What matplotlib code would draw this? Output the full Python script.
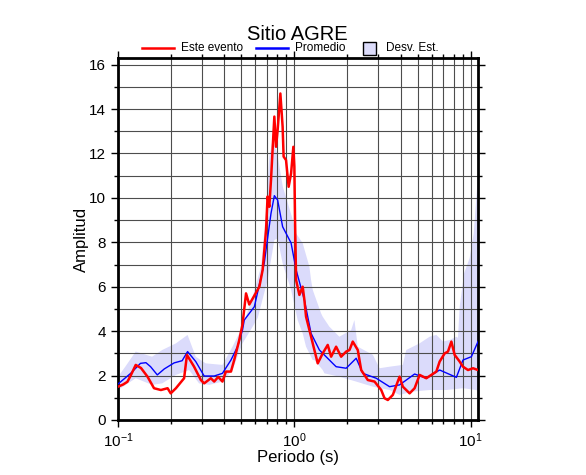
import matplotlib.pyplot as plt
from matplotlib.lines import Line2D
from matplotlib.patches import Rectangle
from matplotlib.ticker import LogLocator, MultipleLocator, NullFormatter

plt.rcParams['font.family'] = ['Liberation Sans', 'DejaVu Sans']

# Este evento (rojo)
per_evento = [0.100, 0.107, 0.113, 0.118, 0.126, 0.135, 0.147, 0.160, 0.175, 0.191,
              0.199, 0.213, 0.237, 0.246, 0.270, 0.295, 0.308, 0.336, 0.351, 0.370,
              0.391, 0.409, 0.437, 0.456, 0.487, 0.508, 0.532, 0.555, 0.593, 0.633,
              0.661, 0.691, 0.705, 0.721, 0.737, 0.770, 0.787, 0.804, 0.833, 0.858,
              0.869, 0.897, 0.928, 0.958, 0.987, 1.000, 1.009, 1.023, 1.068, 1.115,
              1.140, 1.165, 1.244, 1.271, 1.357, 1.448, 1.546, 1.616, 1.725, 1.842,
              1.967, 2.054, 2.144, 2.289, 2.393, 2.609, 2.849, 3.109, 3.246, 3.389,
              3.618, 3.950, 4.124, 4.503, 4.807, 5.131, 5.601, 5.980, 6.385, 6.667,
              7.119, 7.432, 7.770, 8.111, 8.660, 9.041, 9.654, 10.31, 11.0]
amp_evento = [1.50, 1.60, 1.72, 2.00, 2.48, 2.34, 1.95, 1.43, 1.35, 1.43,
              1.20, 1.43, 1.88, 2.93, 2.40, 1.80, 1.65, 1.88, 1.73, 1.94,
              1.73, 2.18, 2.18, 2.70, 3.60, 4.30, 5.70, 5.20, 5.60, 6.00,
              6.76, 8.56, 10.06, 9.60, 10.80, 13.66, 12.30, 13.06, 14.70, 13.20,
              11.86, 11.70, 10.50, 11.10, 12.30, 11.40, 9.00, 6.30, 5.63, 6.00,
              5.40, 4.65, 3.75, 3.45, 2.55, 3.00, 3.38, 2.85, 3.30, 2.85,
              3.08, 3.15, 3.53, 3.15, 2.25, 1.80, 1.73, 1.35, 0.98, 0.90,
              1.13, 1.95, 1.50, 1.20, 1.43, 2.03, 1.88, 2.03, 2.18, 2.63,
              3.00, 3.08, 3.53, 2.93, 2.63, 2.40, 2.25, 2.33, 2.25]

# Promedio (azul)
per_prom = [0.100, 0.118, 0.134, 0.144, 0.153, 0.167, 0.183, 0.208, 0.231, 0.248,
            0.276, 0.308, 0.351, 0.391, 0.437, 0.476, 0.508, 0.520, 0.593, 0.675,
            0.737, 0.770, 0.804, 0.858, 0.958, 1.023, 1.140, 1.244, 1.387, 1.650,
            1.725, 1.967, 2.242, 2.444, 2.913, 3.465, 3.950, 4.807, 5.601, 6.667,
            8.294, 9.041, 10.09, 11.0]
amp_prom = [1.62, 2.10, 2.55, 2.58, 2.40, 2.03, 2.30, 2.57, 2.67, 3.08,
            2.63, 1.98, 1.98, 2.10, 2.70, 3.30, 4.05, 4.50, 5.10, 7.07,
            9.30, 10.10, 9.90, 8.70, 7.97, 6.76, 5.40, 3.90, 3.15, 2.55,
            2.40, 2.33, 2.78, 2.10, 1.88, 1.50, 1.58, 2.07, 1.88, 2.25,
            1.92, 2.70, 2.85, 3.53]

# Desv. Est. (limites de la banda)
per_sup = [0.100, 0.110, 0.126, 0.156, 0.178, 0.213, 0.248, 0.276, 0.314, 0.391,
           0.446, 0.508, 0.580, 0.647, 0.690, 0.721, 0.753, 0.800, 0.860, 0.900,
           0.980, 1.023, 1.115, 1.217, 1.244, 1.271, 1.418, 1.448, 1.580, 1.800,
           2.100, 2.190, 2.290, 2.790, 3.040, 3.470, 4.120, 4.310, 5.130, 5.850,
           6.390, 6.960, 7.600, 8.290, 8.470, 8.660, 9.170, 9.870, 10.40, 11.0]
amp_sup = [1.95, 2.40, 3.08, 2.85, 3.15, 3.45, 3.83, 2.85, 2.55, 2.48,
           3.30, 4.20, 5.55, 6.90, 9.30, 11.86, 12.60, 12.00, 10.50, 10.00,
           9.00, 8.40, 7.96, 6.90, 6.30, 5.86, 4.80, 4.65, 4.20, 3.75,
           4.05, 4.50, 3.30, 2.93, 2.33, 2.40, 2.48, 3.15, 3.45, 3.75,
           3.83, 3.53, 3.60, 3.75, 3.70, 5.10, 6.60, 7.30, 8.40, 11.0]
per_inf = [0.100, 0.126, 0.156, 0.178, 0.213, 0.253, 0.288, 0.329, 0.391, 0.446,
           0.508, 0.580, 0.620, 0.705, 0.770, 0.804, 0.858, 0.958, 1.044, 1.115,
           1.165, 1.271, 1.299, 1.448, 1.481, 1.800, 2.240, 2.790, 3.470, 3.950,
           4.700, 5.850, 7.280, 9.040, 10.77, 11.0]
amp_inf = [1.35, 1.88, 1.58, 1.65, 2.03, 2.25, 1.65, 1.58, 1.73, 2.25,
           3.45, 4.20, 4.60, 6.30, 8.10, 8.18, 7.05, 5.86, 4.50, 3.90,
           3.30, 2.70, 2.70, 2.25, 2.10, 1.95, 1.73, 1.50, 1.35, 1.13,
           1.28, 1.35, 1.35, 1.43, 1.35, 1.30]

banda = '#6464f0'

fig = plt.figure(figsize=(5.86, 4.75), dpi=100)
ax = fig.add_axes([0.2014, 0.1158, 0.6143, 0.7622])

# banda de desviacion estandar: poligono superior + inferior
px = per_sup + per_inf[::-1]
py = amp_sup + amp_inf[::-1]
ax.fill(px, py, color=banda, alpha=0.23, lw=0, zorder=1)
ax.plot(per_prom, amp_prom, color='#0000ff', lw=1.0, zorder=3)
ax.plot(per_evento, amp_evento, color='#ff0000', lw=1.8, zorder=4)

ax.set_xscale('log')
ax.set_xlim(0.1, 11.0)
ax.set_ylim(0, 16.3)
ax.xaxis.set_major_locator(LogLocator(base=10))
ax.xaxis.set_minor_locator(LogLocator(base=10, subs=range(2, 10)))
ax.xaxis.set_minor_formatter(NullFormatter())
ax.yaxis.set_major_locator(MultipleLocator(2))
ax.yaxis.set_minor_locator(MultipleLocator(1))

ax.grid(True, which='both', color='0.3', lw=0.8, zorder=0)
for s in ax.spines.values():
    s.set_linewidth(2.0)
ax.tick_params(which='both', direction='out', top=True, right=True, width=1.0)
ax.tick_params(which='major', length=5, labelsize=11)
ax.tick_params(which='minor', length=3)

ax.set_xlabel('Periodo (s)', fontsize=12, labelpad=0)
ax.set_ylabel('Amplitud', fontsize=12, labelpad=0)
fig.text(0.508, 0.928, 'Sitio AGRE', ha='center', va='center', fontsize=14.5)

# leyenda en una fila sobre el marco
ly = 0.898
fig.add_artist(Line2D([0.2423, 0.2969], [ly, ly], color='#ff0000', lw=1.8,
                      transform=fig.transFigure))
fig.text(0.3097, ly, 'Este evento', ha='left', va='center', fontsize=8.5)
fig.add_artist(Line2D([0.4369, 0.4915], [ly, ly], color='#0000ff', lw=1.8,
                      transform=fig.transFigure))
fig.text(0.5034, ly, 'Promedio', ha='left', va='center', fontsize=8.5)
fig.add_artist(Rectangle((0.6195, ly - 0.0137), 0.0222, 0.0274, facecolor='#dcdcfa',
                         edgecolor='k', lw=1.0, transform=fig.transFigure))
fig.text(0.6587, ly, 'Desv. Est.', ha='left', va='center', fontsize=8.5)

fig.savefig('out.png', dpi=100)
